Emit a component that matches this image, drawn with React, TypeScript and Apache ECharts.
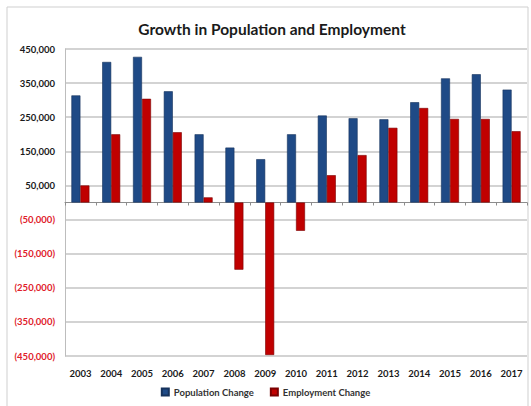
import React, { useEffect, useRef } from "react";
import * as echarts from "echarts";

const years = ["2003","2004","2005","2006","2007","2008","2009","2010","2011","2012","2013","2014","2015","2016","2017"];
const populationChange = [314000, 412000, 427000, 326000, 200000, 161000, 127000, 200000, 255000, 247000, 244000, 294000, 364000, 376000, 331000];
const employmentChange = [50000, 200000, 304000, 206000, 15000, -197000, -447000, -83000, 80000, 139000, 219000, 277000, 245000, 245000, 209000];
const gridValues = [450000, 350000, 250000, 150000, 50000, -50000, -150000, -250000, -350000, -450000];

const FONT = "Lato";

export default function App() {
  const ref = useRef<HTMLDivElement>(null);
  useEffect(() => {
    if (!ref.current) return;
    const chart = echarts.init(ref.current, null, { renderer: "svg" });
    const fmt = (v: number) => {
      const a = Math.abs(v);
      const s = a.toLocaleString("en-US");
      return v < 0 ? "(" + s + ")" : s;
    };
    chart.setOption({
      animation: false,
      backgroundColor: "#ffffff",
      title: {
        text: "Growth in Population and Employment",
        left: 267,
        textAlign: "center",
        top: 16,
        textStyle: { fontFamily: FONT, fontSize: 15.5, fontWeight: "bold", color: "#1a1a1a" },
      },
      graphic: [
        {
          type: "rect",
          shape: { x: 7, y: 7, width: 521, height: 420 },
          style: { fill: "none", stroke: "#cfcfcf", lineWidth: 1 },
          silent: true,
          z: -1,
        },
      ],
      legend: {
        bottom: 4,
        left: "center",
        itemWidth: 7,
        itemHeight: 7,
        itemGap: 16,
        icon: "rect",
        textStyle: { fontFamily: FONT, fontSize: 9.5, fontWeight: "bold", color: "#333" },
        data: ["Population Change", "Employment Change"],
      },
      grid: { left: 65, right: 4, top: 49, bottom: 50, containLabel: false },
      xAxis: {
        type: "category",
        data: years,
        axisLine: { onZero: true, lineStyle: { color: "#8c8c8c", width: 1 } },
        axisTick: { show: true, length: 3, lineStyle: { color: "#8c8c8c" } },
        axisLabel: {
          fontFamily: FONT,
          fontSize: 9.5,
          fontWeight: "bold",
          color: "#1a1a1a",
          margin: 12,
          interval: 0,
        },
        position: "bottom",
      },
      yAxis: {
        type: "value",
        min: -450000,
        max: 450000,
        interval: 50000,
        axisLine: { show: true, lineStyle: { color: "#bdbdbd" } },
        axisTick: { show: false },
        splitLine: { show: false },
        axisLabel: {
          fontFamily: FONT,
          fontSize: 9.5,
          fontWeight: "bold",
          margin: 10,
          formatter: (v: number) => (gridValues.indexOf(v) >= 0 ? fmt(v) : ""),
          color: (v: any) => (Number(v) < 0 ? "#e0202a" : "#1a1a1a"),
        },
      },
      series: [
        {
          name: "Population Change",
          type: "bar",
          data: populationChange,
          barWidth: 9,
          barGap: "0%",
          itemStyle: { color: "#1f4a86", borderColor: "#16325c", borderWidth: 0.6 },
          markLine: {
            silent: true,
            symbol: "none",
            label: { show: false },
            lineStyle: { color: "#c4c4c4", type: "solid", width: 1.5 },
            data: gridValues.map((v) => ({ yAxis: v })),
            z: 0,
          },
        },
        {
          name: "Employment Change",
          type: "bar",
          data: employmentChange,
          barWidth: 9,
          barGap: "0%",
          itemStyle: { color: "#c00000", borderColor: "#7a0000", borderWidth: 0.6 },
        },
      ],
    });
    return () => chart.dispose();
  }, []);
  return <div ref={ref} style={{ width: 531, height: 406, position: "absolute", left: 0, top: 0 }} />;
}
